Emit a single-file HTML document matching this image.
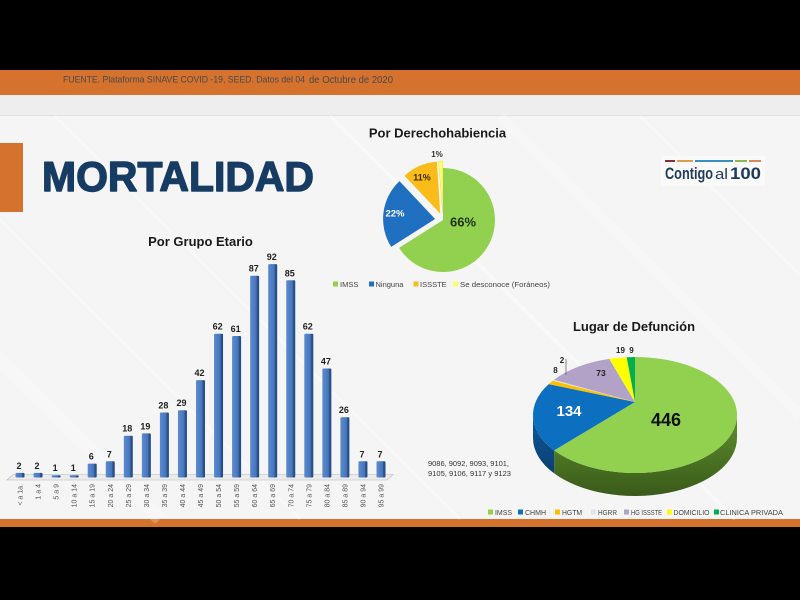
<!DOCTYPE html>
<html>
<head>
<meta charset="utf-8">
<style>
html,body{margin:0;padding:0;background:#000;}
svg{display:block;}
text{font-family:"Liberation Sans",Arial,sans-serif;}
</style>
</head>
<body>
<svg width="800" height="600" viewBox="0 0 800 600" xmlns="http://www.w3.org/2000/svg">
<defs>
<linearGradient id="barg" x1="0" y1="0" x2="1" y2="0">
<stop offset="0" stop-color="#5b8bd0"/>
<stop offset="0.7" stop-color="#4674ba"/>
<stop offset="0.74" stop-color="#2e5894"/>
<stop offset="1" stop-color="#244a7e"/>
</linearGradient>
<linearGradient id="gside" x1="0" y1="0" x2="0" y2="1">
<stop offset="0" stop-color="#5e8f2e"/>
<stop offset="1" stop-color="#3a5a1a"/>
</linearGradient>
<linearGradient id="bside" x1="0" y1="0" x2="0" y2="1">
<stop offset="0" stop-color="#0f5a9c"/>
<stop offset="1" stop-color="#0a3f70"/>
</linearGradient>
</defs>

<!-- frame -->
<rect x="0" y="0" width="800" height="600" fill="#000"/>
<rect x="0" y="70" width="800" height="25" fill="#d4722e"/>
<rect x="0" y="95" width="800" height="20" fill="#eeeeef"/>
<rect x="0" y="115" width="800" height="404" fill="#f5f5f5"/>
<line x1="0" y1="115.5" x2="800" y2="115.5" stroke="#e2e2e2" stroke-width="1"/>
<rect x="0" y="519" width="800" height="8" fill="#d4722e"/>

<!-- diagonal streaks -->
<g stroke="#ffffff" opacity="0.45">
<line x1="55" y1="116" x2="460" y2="519" stroke-width="2"/>
<line x1="-60" y1="300" x2="160" y2="519" stroke-width="14" opacity="0.5"/>
<line x1="330" y1="116" x2="735" y2="519" stroke-width="3"/>
<line x1="500" y1="116" x2="800" y2="415" stroke-width="10" opacity="0.5"/>
<line x1="640" y1="116" x2="800" y2="275" stroke-width="2"/>
<line x1="-40" y1="180" x2="300" y2="519" stroke-width="3" opacity="0.6"/>
</g>

<!-- left orange tab -->
<rect x="0" y="143" width="23" height="69" fill="#d4722e"/>

<!-- header text -->
<text x="63" y="82.5" font-size="9" fill="#4a4a4a" textLength="242" lengthAdjust="spacingAndGlyphs">FUENTE. Plataforma SINAVE COVID -19, SEED. Datos del 04</text>
<text x="309" y="83" font-size="10" fill="#4a4a4a" textLength="84" lengthAdjust="spacingAndGlyphs">de Octubre de 2020</text>

<!-- title -->
<text x="42" y="191" font-size="42" font-weight="bold" fill="#163c64" stroke="#163c64" stroke-width="1.4" stroke-linejoin="round" textLength="272" lengthAdjust="spacingAndGlyphs">MORTALIDAD</text>

<!-- logo -->
<rect x="661" y="156" width="104" height="30" fill="#fafafa"/>
<rect x="665" y="160" width="10" height="2" fill="#8b2d3a"/>
<rect x="677" y="160" width="16" height="2" fill="#d9a24a"/>
<rect x="695" y="160" width="38" height="2" fill="#3a8fc1"/>
<rect x="735" y="160" width="12" height="2" fill="#8ab84a"/>
<rect x="749" y="160" width="12" height="2" fill="#d9885a"/>
<text x="665" y="179" font-size="17" font-weight="bold" fill="#1f3b5a" textLength="48" lengthAdjust="spacingAndGlyphs">Contigo</text>
<text x="715" y="179" font-size="15" fill="#1f3b5a" textLength="13" lengthAdjust="spacingAndGlyphs">al</text>
<text x="730" y="179" font-size="17" font-weight="bold" fill="#1f3b5a" textLength="31" lengthAdjust="spacingAndGlyphs">100</text>

<!-- ============ Bar chart ============ -->
<text x="200.5" y="246" font-size="13" font-weight="bold" fill="#1a1a1a" text-anchor="middle">Por Grupo Etario</text>
<polygon points="13,474.5 393,474.5 387,480 7,480" fill="#ececec" stroke="#b8b8b8" stroke-width="0.6"/>

<g fill="url(#barg)">
<rect x="15.5" y="472.9" width="9" height="4.6" rx="1"/>
<rect x="33.55" y="472.9" width="9" height="4.6" rx="1"/>
<rect x="51.6" y="475.2" width="9" height="2.3" rx="1"/>
<rect x="69.65" y="475.2" width="9" height="2.3" rx="1"/>
<rect x="87.7" y="463.6" width="9" height="13.9" rx="1"/>
<rect x="105.75" y="461.3" width="9" height="16.2" rx="1"/>
<rect x="123.8" y="435.7" width="9" height="41.8" rx="1"/>
<rect x="141.85" y="433.4" width="9" height="44.1" rx="1"/>
<rect x="159.9" y="412.5" width="9" height="65" rx="1"/>
<rect x="177.95" y="410.2" width="9" height="67.3" rx="1"/>
<rect x="196" y="380.1" width="9" height="97.4" rx="1"/>
<rect x="214.05" y="333.7" width="9" height="143.8" rx="1"/>
<rect x="232.1" y="336" width="9" height="141.5" rx="1"/>
<rect x="250.15" y="275.7" width="9" height="201.8" rx="1"/>
<rect x="268.2" y="264.1" width="9" height="213.4" rx="1"/>
<rect x="286.25" y="280.3" width="9" height="197.2" rx="1"/>
<rect x="304.3" y="333.7" width="9" height="143.8" rx="1"/>
<rect x="322.35" y="368.5" width="9" height="109" rx="1"/>
<rect x="340.4" y="417.2" width="9" height="60.3" rx="1"/>
<rect x="358.45" y="461.3" width="9" height="16.2" rx="1"/>
<rect x="376.5" y="461.3" width="9" height="16.2" rx="1"/>
</g>

<g font-size="9" font-weight="bold" fill="#222" text-anchor="middle">
<text x="19" y="468.9">2</text>
<text x="37" y="468.9">2</text>
<text x="55.1" y="471.2">1</text>
<text x="73.2" y="471.2">1</text>
<text x="91.2" y="459.6">6</text>
<text x="109.3" y="457.3">7</text>
<text x="127.3" y="431.7">18</text>
<text x="145.4" y="429.4">19</text>
<text x="163.4" y="408.5">28</text>
<text x="181.5" y="406.2">29</text>
<text x="199.5" y="376.1">42</text>
<text x="217.6" y="329.7">62</text>
<text x="235.6" y="332">61</text>
<text x="253.7" y="271.7">87</text>
<text x="271.7" y="260.1">92</text>
<text x="289.8" y="276.3">85</text>
<text x="307.8" y="329.7">62</text>
<text x="325.9" y="364.5">47</text>
<text x="343.9" y="413.2">26</text>
<text x="362" y="457.3">7</text>
<text x="380" y="457.3">7</text>
</g>

<g font-size="7" fill="#555" text-anchor="end">
<text transform="translate(22.5,484) rotate(-90)">&lt; a 1a.</text>
<text transform="translate(40.55,484) rotate(-90)">1 a 4</text>
<text transform="translate(58.6,484) rotate(-90)">5 a 9</text>
<text transform="translate(76.65,484) rotate(-90)">10 a 14</text>
<text transform="translate(94.7,484) rotate(-90)">15 a 19</text>
<text transform="translate(112.75,484) rotate(-90)">20 a 24</text>
<text transform="translate(130.8,484) rotate(-90)">25 a 29</text>
<text transform="translate(148.85,484) rotate(-90)">30 a 34</text>
<text transform="translate(166.9,484) rotate(-90)">35 a 39</text>
<text transform="translate(184.95,484) rotate(-90)">40 a 44</text>
<text transform="translate(203,484) rotate(-90)">45 a 49</text>
<text transform="translate(221.05,484) rotate(-90)">50 a 54</text>
<text transform="translate(239.1,484) rotate(-90)">55 a 59</text>
<text transform="translate(257.15,484) rotate(-90)">60 a 64</text>
<text transform="translate(275.2,484) rotate(-90)">65 a 69</text>
<text transform="translate(293.25,484) rotate(-90)">70 a 74</text>
<text transform="translate(311.3,484) rotate(-90)">75 a 79</text>
<text transform="translate(329.35,484) rotate(-90)">80 a 84</text>
<text transform="translate(347.4,484) rotate(-90)">85 a 89</text>
<text transform="translate(365.45,484) rotate(-90)">90 a 94</text>
<text transform="translate(383.5,484) rotate(-90)">95 a 99</text>
</g>

<!-- ============ Pie 1 ============ -->
<text x="437.5" y="137.5" font-size="13" font-weight="bold" fill="#1a1a1a" text-anchor="middle">Por Derechohabiencia</text>
<path d="M443,220 L443,168 A52,52 0 1 1 399.1,247.9 Z" fill="#92d050"/>
<path d="M435.1,219 L391.2,246.9 A52,52 0 0 1 399.5,181.1 Z" fill="#1f70c1"/>
<path d="M440.2,213.6 L404.6,175.7 A52,52 0 0 1 436.9,161.7 Z" fill="#fbbc1a"/>
<path d="M442.8,213 L438.5,161.3 A52,52 0 0 1 442.8,161 Z" fill="#ffff66" stroke="#e6df5a" stroke-width="0.5"/>
<text x="463" y="226.5" font-size="13" font-weight="bold" fill="#1e3214" text-anchor="middle">66%</text>
<text x="395" y="216.5" font-size="9.5" font-weight="bold" fill="#fff" text-anchor="middle">22%</text>
<text x="422" y="180.5" font-size="9" font-weight="bold" fill="#3a2a00" text-anchor="middle">11%</text>
<text x="437" y="157" font-size="8" font-weight="bold" fill="#333" text-anchor="middle">1%</text>

<g font-size="7.5" fill="#444">
<rect x="333" y="281.5" width="5" height="5" fill="#92d050"/>
<text x="340" y="287">IMSS</text>
<rect x="369" y="281.5" width="5" height="5" fill="#1f70c1"/>
<text x="375.5" y="287">Ninguna</text>
<rect x="413.5" y="281.5" width="5" height="5" fill="#fbbc1a"/>
<text x="420" y="287">ISSSTE</text>
<rect x="453" y="281.5" width="5" height="5" fill="#ffff66"/>
<text x="460" y="287" textLength="90" lengthAdjust="spacingAndGlyphs">Se desconoce (Foráneos)</text>
</g>

<!-- ============ Pie 2 ============ -->
<text x="634" y="331" font-size="13" font-weight="bold" fill="#1a1a1a" text-anchor="middle">Lugar de Defunción</text>
<path d="M737,415 A102,58 0 0 1 554.2,450.4 L554.2,473.4 A102,58 0 0 0 737,438 Z" fill="url(#gside)"/>
<path d="M554.2,450.4 A102,58 0 0 1 533,415 L533,438 A102,58 0 0 0 554.2,473.4 Z" fill="url(#bside)"/>
<path d="M635,402 L635,357 A102,58 0 1 1 554.2,450.4 Z" fill="#92d050"/>
<path d="M635,402 L554.2,450.4 A102,58 0 0 1 548.7,384.1 Z" fill="#0d6fbf"/>
<path d="M635,402 L548.7,384.1 A102,58 0 0 1 552.8,380.6 Z" fill="#ffc000"/>
<path d="M635,402 L552.8,380.6 A102,58 0 0 1 554,379.8 Z" fill="#dce6f2"/>
<path d="M635,402 L554,379.8 A102,58 0 0 1 609.3,358.9 Z" fill="#b3a2c7"/>
<path d="M635,402 L609.3,358.9 A102,58 0 0 1 626.7,357.2 Z" fill="#ffff00"/>
<path d="M635,402 L626.7,357.2 A102,58 0 0 1 635,357 Z" fill="#00b050"/>

<text x="666" y="426" font-size="18" font-weight="bold" fill="#111" text-anchor="middle">446</text>
<text x="569" y="416" font-size="15" font-weight="bold" fill="#fff" text-anchor="middle">134</text>
<text x="601" y="376" font-size="8.5" font-weight="bold" fill="#222" text-anchor="middle">73</text>
<text x="555.5" y="373" font-size="8" font-weight="bold" fill="#222" text-anchor="middle">8</text>
<text x="562" y="363" font-size="8" font-weight="bold" fill="#222" text-anchor="middle">2</text>
<line x1="566" y1="359" x2="566" y2="375" stroke="#555" stroke-width="0.7"/>
<text x="620.5" y="353" font-size="8" font-weight="bold" fill="#222" text-anchor="middle">19</text>
<text x="631.5" y="353" font-size="8" font-weight="bold" fill="#222" text-anchor="middle">9</text>

<g font-size="7" fill="#444">
<rect x="488" y="509.5" width="5" height="5" fill="#92d050"/>
<text x="495" y="515" textLength="17" lengthAdjust="spacingAndGlyphs">IMSS</text>
<rect x="518" y="509.5" width="5" height="5" fill="#0d6fbf"/>
<text x="525" y="515" textLength="21" lengthAdjust="spacingAndGlyphs">CHMH</text>
<rect x="555" y="509.5" width="5" height="5" fill="#ffc000"/>
<text x="562" y="515" textLength="20" lengthAdjust="spacingAndGlyphs">HGTM</text>
<rect x="591" y="509.5" width="5" height="5" fill="#dce6f2"/>
<text x="598" y="515" textLength="19" lengthAdjust="spacingAndGlyphs">HGRR</text>
<rect x="624" y="509.5" width="5" height="5" fill="#b3a2c7"/>
<text x="631" y="515" textLength="31" lengthAdjust="spacingAndGlyphs">HG ISSSTE</text>
<rect x="667" y="509.5" width="5" height="5" fill="#ffff00"/>
<text x="673.5" y="515" textLength="36" lengthAdjust="spacingAndGlyphs">DOMICILIO</text>
<rect x="714" y="509.5" width="5" height="5" fill="#00b050"/>
<text x="720" y="515" textLength="63" lengthAdjust="spacingAndGlyphs">CLINICA PRIVADA</text>
</g>

<!-- note text -->
<text x="428" y="466" font-size="7.5" fill="#333" textLength="81" lengthAdjust="spacingAndGlyphs">9086, 9092, 9093, 9101,</text>
<text x="428" y="476" font-size="7.5" fill="#333" textLength="83" lengthAdjust="spacingAndGlyphs">9105, 9106, 9117 y 9123</text>
</svg>
</body>
</html>
